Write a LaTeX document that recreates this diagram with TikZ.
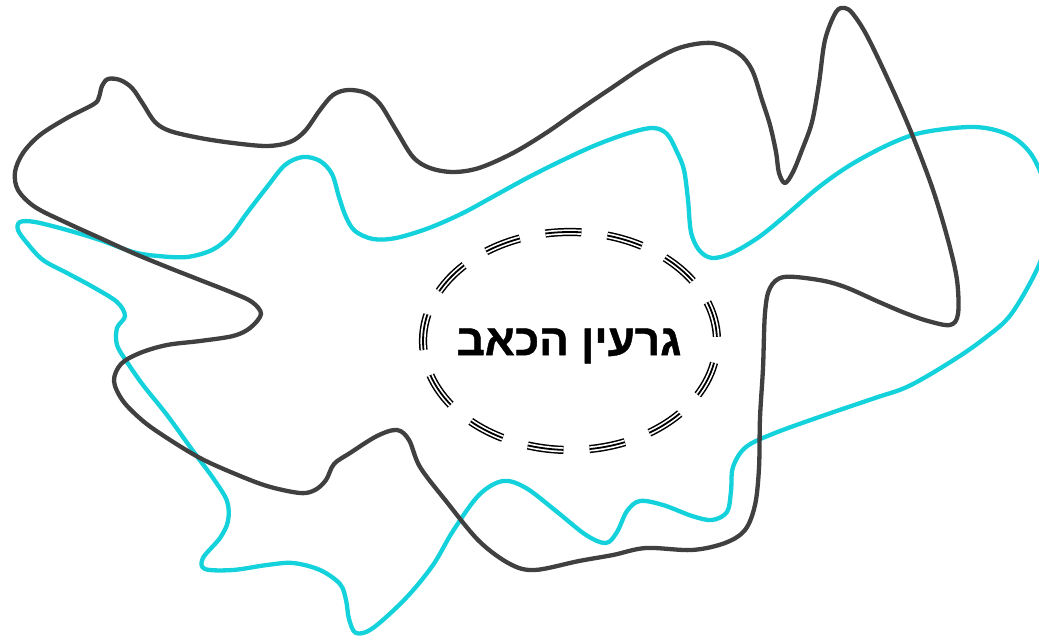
\documentclass[tikz,border=0pt]{standalone}
\usepackage{fontspec}
\usepackage{tikz}
\usetikzlibrary{shapes.geometric}
\newfontfamily\hebfont[Script=Hebrew,BoldFeatures={FakeBold=1}]{Liberation Sans}
\TeXXeTstate=1
\definecolor{inkgray}{HTML}{404040}
\definecolor{aqua}{HTML}{14D2DC}

\begin{document}
\begin{tikzpicture}[x=1pt,y=-1pt,
  squiggle/.style={line width=4.3pt,line join=round,smooth cycle,tension=0.55},
  ringdash/.style={dash pattern=on 36pt off 26.2pt,dash phase=58pt},
  corering/.style={ellipse,minimum width=294pt,minimum height=218pt,inner sep=0pt,
    draw=black,line width=8.2pt,ringdash,
    postaction={draw=white,line width=5.2pt,ringdash},
    postaction={draw=black,line width=1.8pt,ringdash}},
  coretext/.style={inner sep=0pt,font=\hebfont\bfseries\fontsize{44}{52}\selectfont}]
\fill[white] (0,0) rectangle (1039,636);
\useasboundingbox (0,0) rectangle (1039,636);
\draw[squiggle,aqua] plot coordinates {(20,222) (35,222) (67,230) (100,240) (133,252) (158,256) (187,257) (212,250) (230,236) (247,213) (267,187) (285,165) (303,157) (320,161) (332,174) (339,197) (346,217) (355,231) (373,239) (396,238) (429,228) (463,213) (496,195) (529,177) (563,160) (596,145) (629,133) (653,128) (667,134) (677,152) (684,170) (688,200) (691,232) (699,250) (712,258) (732,253) (759,237) (785,216) (819,187) (852,164) (892,143) (925,132) (975,127) (1009,135) (1031,154) (1045,185) (1049,215) (1041,260) (1012,313) (985,338) (952,361) (909,386) (875,398) (825,415) (775,433) (746,447) (733,467) (731,491) (727,512) (712,520) (692,516) (663,505) (640,501) (627,511) (617,532) (606,543) (586,535) (556,511) (526,488) (503,481) (479,495) (453,531) (433,565) (406,598) (373,628) (356,633) (349,619) (346,600) (340,584) (320,570) (293,563) (267,565) (233,570) (205,569) (203,558) (220,538) (228,521) (227,501) (213,478) (193,451) (167,415) (143,385) (127,362) (117,345) (117,328) (125,316) (117,302) (93,287) (67,273) (43,260) (27,243) (18,230)};
\draw[squiggle,inkgray] plot coordinates {(99,97) (102,86) (108,79) (120,80) (132,88) (143,104) (155,122) (170,131) (200,138) (233,143) (267,146) (290,142) (305,131) (320,110) (333,95) (348,90) (366,93) (380,104) (396,130) (413,157) (430,168) (453,172) (479,168) (513,153) (546,133) (579,110) (613,87) (646,65) (679,48) (712,43) (738,53) (752,70) (762,100) (770,125) (776,152) (779,173) (785,183) (793,172) (802,150) (812,122) (819,83) (825,40) (836,12) (845,8) (853,14) (866,34) (885,73) (909,127) (932,187) (948,240) (957,280) (958,314) (950,325) (928,321) (905,313) (879,302) (845,287) (819,280) (784,277) (770,288) (765,313) (763,368) (760,418) (759,468) (755,505) (745,530) (725,543) (692,550) (646,548) (613,555) (579,561) (535,570) (510,564) (479,541) (446,501) (420,467) (409,440) (397,430) (377,436) (350,453) (334,464) (326,480) (315,490) (300,493) (267,486) (233,473) (200,458) (167,438) (143,421) (123,401) (114,381) (121,364) (140,353) (167,345) (200,341) (233,336) (250,328) (261,314) (252,302) (233,293) (200,280) (167,267) (133,253) (100,238) (67,223) (35,207) (18,190) (15,172) (23,153) (40,135) (67,118) (94,104)};
\node[corering] (core) at (570,341) {};
\node[coretext] (coretitle) at (569,346) {\beginR גרעין הכאב\endR};
\end{tikzpicture}
\end{document}
